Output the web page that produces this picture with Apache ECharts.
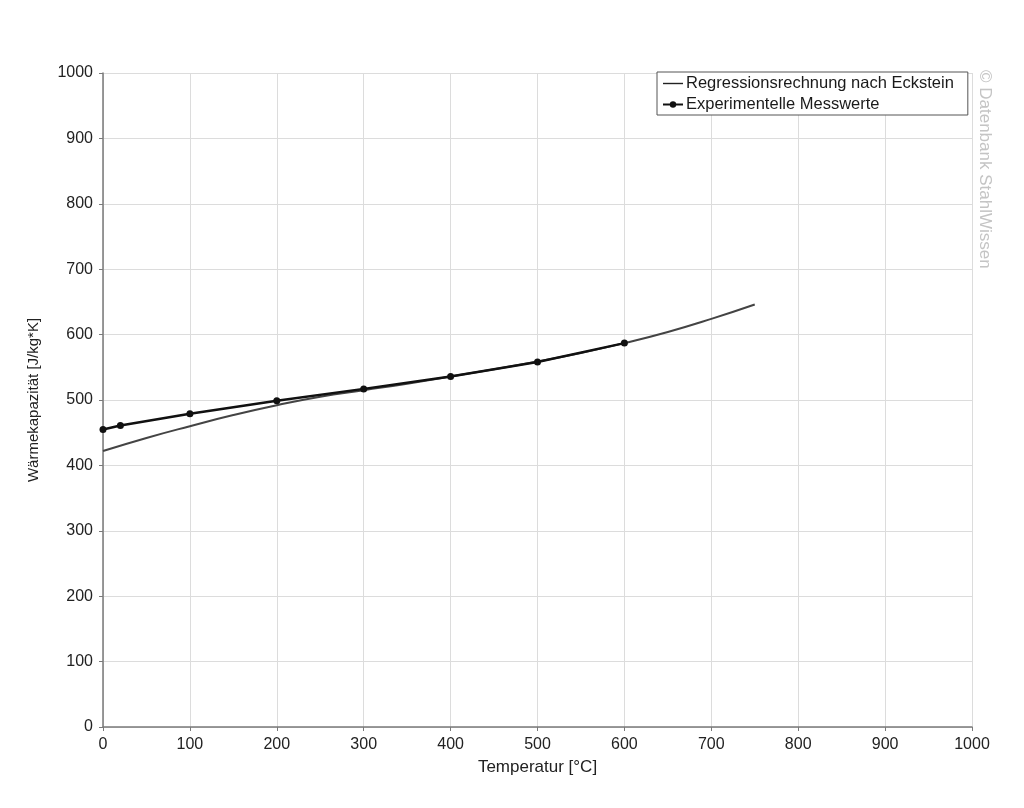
<!DOCTYPE html>
<html>
<head>
<meta charset="utf-8">
<script src="https://cdn.jsdelivr.net/npm/echarts@6/dist/echarts.min.js"></script>
<style>
html, body { margin: 0; padding: 0; background: #fff; }
#chart { width: 1024px; height: 808px; }
</style>
</head>
<body>
<div id="chart"></div>
<script>
// Regressionsrechnung nach Eckstein (Temperatur / Wärmekapazität)
const regTemp = [0, 50, 100, 150, 200, 250, 300, 350, 400, 450, 500, 550, 600, 650, 700, 750]
const regCp = [422, 442, 460, 477, 492, 505, 515, 525, 536, 547, 559, 572, 587, 604, 624, 646]

// Experimentelle Messwerte
const expTemp = [0, 20, 100, 200, 300, 400, 500, 600]
const expCp = [455, 461, 479, 499, 517, 536, 558, 587]

const font = "'Liberation Sans', Arial, sans-serif"

const chart = echarts.init(document.getElementById("chart"))

const axisCommon = {
	min: 0,
	max: 1000,
	interval: 100,
	axisLine: { show: true, lineStyle: { color: "#7a7a7a", width: 1.5 } },
	axisTick: { show: true, length: 4, lineStyle: { color: "#7a7a7a" } },
	axisLabel: { color: "#222", fontSize: 16, fontFamily: font, margin: 10, formatter: v => String(v) },
	splitLine: { show: true, lineStyle: { color: "#dcdcdc", width: 1 } },
}

chart.setOption({
	animation: false,
	grid: { left: 103, right: 52, top: 73, bottom: 81 },
	xAxis: {
		...axisCommon,
		type: "value",
		name: "Temperatur [°C]",
		nameLocation: "middle",
		nameGap: 32,
		nameTextStyle: { color: "#222", fontSize: 17, fontFamily: font },
	},
	yAxis: {
		...axisCommon,
		type: "value",
		name: "Wärmekapazität [J/kg*K]",
		nameLocation: "middle",
		nameGap: 62,
		nameTextStyle: { color: "#222", fontSize: 15, fontFamily: font },
	},
	legend: {
		orient: "vertical",
		left: 657,
		top: 72,
		padding: [3, 14, 2, 5],
		itemGap: 4,
		itemWidth: 20,
		itemHeight: 8,
		borderColor: "#555",
		borderWidth: 1,
		backgroundColor: "#fff",
		borderRadius: 0,
		textStyle: { color: "#1a1a1a", fontSize: 16.5, fontFamily: font, padding: [0, 0, 0, -2] },
		data: [
			{ name: "Regressionsrechnung nach Eckstein", icon: "path://M0,3.8L20,3.8L20,5.2L0,5.2Z", itemStyle: { color: "#222" } },
			{ name: "Experimentelle Messwerte" },
		],
	},
	graphic: [
		{
			type: "text",
			left: 976,
			top: 70,
			rotation: -Math.PI / 2,
			style: {
				text: "© Datenbank StahlWissen",
				fill: "#c4c4c4",
				font: "17px " + font,
			},
		},
	],
	series: [
		{
			name: "Regressionsrechnung nach Eckstein",
			type: "line",
			smooth: true,
			symbol: "none",
			lineStyle: { color: "#444", width: 2 },
			itemStyle: { color: "#444" },
			data: regTemp.map((t, i) => [t, regCp[i]]),
			z: 2,
		},
		{
			name: "Experimentelle Messwerte",
			type: "line",
			symbol: "circle",
			symbolSize: 7,
			lineStyle: { color: "#111", width: 2.5 },
			itemStyle: { color: "#111" },
			data: expTemp.map((t, i) => [t, expCp[i]]),
			z: 3,
		},
	],
})
</script>
</body>
</html>
